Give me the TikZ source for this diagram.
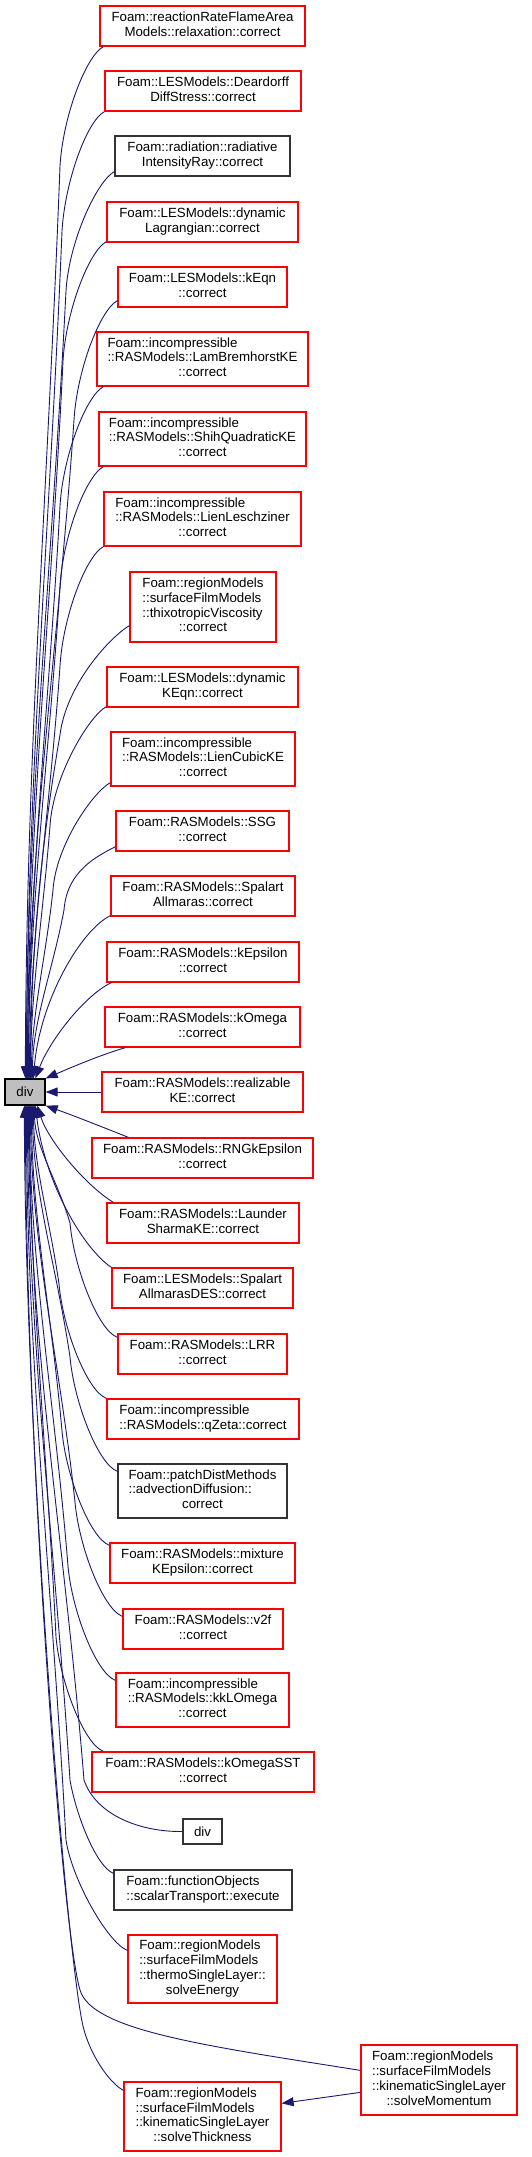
\documentclass[tikz,border=0pt]{standalone}
\usepackage{fontspec}
\setmainfont{Liberation Sans}
\usetikzlibrary{arrows.meta}
\definecolor{edgeblue}{HTML}{191970}
\definecolor{boxred}{HTML}{FF0000}
\definecolor{divgray}{HTML}{BFBFBF}
\newcommand{\lbl}[2]{\begin{tabular}{@{}l@{}}#1\\\multicolumn{1}{@{}c@{}}{#2}\end{tabular}}
\begin{document}
\begin{tikzpicture}[x=1pt,y=-1pt,
  box/.style={draw, rectangle, inner sep=0pt, line width=1.3pt, font=\fontsize{13.3}{14.7}\selectfont, text=black},
  redbox/.style={box, draw=boxred},
  blkbox/.style={box, draw=black!80},
  edge/.style={draw=edgeblue, line width=0.9pt, -{Triangle[length=12pt,width=9pt]}},
]
\useasboundingbox (0,0) rectangle (531,2157);
\fill[white] (0,0) rectangle (531,2157);

% ---- nodes ----
\node[box, draw=black, fill=divgray, minimum width=40pt, minimum height=26pt] (div) at (25,1092) {div};

\node[redbox, minimum width=205pt, minimum height=40pt] (n1) at (202.5,26) {\lbl{Foam::reactionRateFlameArea}{Models::relaxation::correct}};
\node[redbox, minimum width=196pt, minimum height=40pt] (n2) at (203,91) {\lbl{Foam::LESModels::Deardorff}{DiffStress::correct}};
\node[blkbox, minimum width=175pt, minimum height=40pt] (n3) at (202.5,156) {\lbl{Foam::radiation::radiative}{IntensityRay::correct}};
\node[redbox, minimum width=191pt, minimum height=40pt] (n4) at (202.5,222) {\lbl{Foam::LESModels::dynamic}{Lagrangian::correct}};
\node[redbox, minimum width=169pt, minimum height=40pt] (n5) at (202.5,287) {\lbl{Foam::LESModels::kEqn}{::correct}};
\node[redbox, minimum width=211pt, minimum height=54pt] (n6) at (202.5,359) {\lbl{Foam::incompressible\\::RASModels::LamBremhorstKE}{::correct}};
\node[redbox, minimum width=207pt, minimum height=54pt] (n7) at (202.5,439) {\lbl{Foam::incompressible\\::RASModels::ShihQuadraticKE}{::correct}};
\node[redbox, minimum width=197pt, minimum height=54pt] (n8) at (202.5,519) {\lbl{Foam::incompressible\\::RASModels::LienLeschziner}{::correct}};
\node[redbox, minimum width=146pt, minimum height=70pt] (n9) at (203,607) {\lbl{Foam::regionModels\\::surfaceFilmModels\\::thixotropicViscosity}{::correct}};
\node[redbox, minimum width=191pt, minimum height=40pt] (n10) at (202.5,687) {\lbl{Foam::LESModels::dynamic}{KEqn::correct}};
\node[redbox, minimum width=184pt, minimum height=54pt] (n11) at (203,759) {\lbl{Foam::incompressible\\::RASModels::LienCubicKE}{::correct}};
\node[redbox, minimum width=173pt, minimum height=40pt] (n12) at (202.5,831) {\lbl{Foam::RASModels::SSG}{::correct}};
\node[redbox, minimum width=184pt, minimum height=40pt] (n13) at (203,896) {\lbl{Foam::RASModels::Spalart}{Allmaras::correct}};
\node[redbox, minimum width=192pt, minimum height=40pt] (n14) at (203,962) {\lbl{Foam::RASModels::kEpsilon}{::correct}};
\node[redbox, minimum width=195pt, minimum height=40pt] (n15) at (202.5,1027) {\lbl{Foam::RASModels::kOmega}{::correct}};
\node[redbox, minimum width=201pt, minimum height=40pt] (n16) at (202.5,1092) {\lbl{Foam::RASModels::realizable}{KE::correct}};
\node[redbox, minimum width=221pt, minimum height=40pt] (n17) at (202.5,1158) {\lbl{Foam::RASModels::RNGkEpsilon}{::correct}};
\node[redbox, minimum width=192pt, minimum height=40pt] (n18) at (203,1223) {\lbl{Foam::RASModels::Launder}{SharmaKE::correct}};
\node[redbox, minimum width=181pt, minimum height=40pt] (n19) at (202.5,1288) {\lbl{Foam::LESModels::Spalart}{AllmarasDES::correct}};
\node[redbox, minimum width=169pt, minimum height=40pt] (n20) at (202.5,1354) {\lbl{Foam::RASModels::LRR}{::correct}};
\node[redbox, minimum width=192pt, minimum height=40pt] (n21) at (203,1419) {\lbl{Foam::incompressible}{::RASModels::qZeta::correct}};
\node[blkbox, minimum width=169pt, minimum height=54pt] (n22) at (202.5,1491) {\lbl{Foam::patchDistMethods\\::advectionDiffusion::}{correct}};
\node[redbox, minimum width=185pt, minimum height=40pt] (n23) at (202.5,1563) {\lbl{Foam::RASModels::mixture}{KEpsilon::correct}};
\node[redbox, minimum width=160pt, minimum height=40pt] (n24) at (203,1629) {\lbl{Foam::RASModels::v2f}{::correct}};
\node[redbox, minimum width=173pt, minimum height=54pt] (n25) at (202.5,1700) {\lbl{Foam::incompressible\\::RASModels::kkLOmega}{::correct}};
\node[redbox, minimum width=222pt, minimum height=40pt] (n26) at (203,1772) {\lbl{Foam::RASModels::kOmegaSST}{::correct}};
\node[blkbox, minimum width=39pt, minimum height=25pt] (n27) at (202.5,1831.5) {div};
\node[blkbox, minimum width=178pt, minimum height=40pt] (n28) at (203,1890) {\lbl{Foam::functionObjects}{::scalarTransport::execute}};
\node[redbox, minimum width=149pt, minimum height=68pt] (n29) at (202.5,1969) {\lbl{Foam::regionModels\\::surfaceFilmModels\\::thermoSingleLayer::}{solveEnergy}};
\node[redbox, minimum width=157pt, minimum height=69pt] (n30) at (202.5,2116.5) {\lbl{Foam::regionModels\\::surfaceFilmModels\\::kinematicSingleLayer}{::solveThickness}};
\node[redbox, minimum width=156pt, minimum height=70pt] (n31) at (439,2080) {\lbl{Foam::regionModels\\::surfaceFilmModels\\::kinematicSingleLayer}{::solveMomentum}};

% ---- edges from above ----
\draw[edge] ([shift={(4,0)}]n1.south west) .. controls (86,56) and (63,116) .. (60,166) .. controls (48,486) and (26,759) .. ([shift={(21,0)}]div.north west);
\draw[edge] (n2.south west) .. controls (87,121) and (65,181) .. (62,231) .. controls (50,528) and (27,782) .. ([shift={(22,0)}]div.north west);
\draw[edge] ([shift={(0,-5)}]n3.south west) .. controls (97,181) and (69,241) .. (66,291) .. controls (52,567) and (27,803) .. ([shift={(22,0)}]div.north west);
\draw[edge] ([shift={(0,-1)}]n4.south west) .. controls (89,251) and (66,311) .. (63,361) .. controls (51,612) and (28,828) .. ([shift={(23,0)}]div.north west);
\draw[edge] ([shift={(0,-7)}]n5.south west) .. controls (100,310) and (77,370) .. (74,420) .. controls (58,651) and (28,848) .. ([shift={(23,0)}]div.north west);
\draw[edge] ([shift={(7,0)}]n6.south west) .. controls (86,396) and (63,456) .. (60,506) .. controls (49,707) and (29,878) .. ([shift={(24,0)}]div.north west);
\draw[edge] ([shift={(5,0)}]n7.south west) .. controls (86,476) and (63,536) .. (60,586) .. controls (49,759) and (29,907) .. ([shift={(24,0)}]div.north west);
\draw[edge] (n8.south west) .. controls (86,556) and (63,616) .. (60,666) .. controls (50,811) and (30,934) .. ([shift={(25,0)}]div.north west);
\draw[edge] ([shift={(0,-17)}]n9.south west) .. controls (110,637) and (66,685) .. (60,735) .. controls (40,850) and (31,959) .. ([shift={(26,0)}]div.north west);
\draw[edge] ([shift={(0,-1)}]n10.south west) .. controls (89,716) and (53,776) .. (50,826) .. controls (43,915) and (31,990) .. ([shift={(26,0)}]div.north west);
\draw[edge] ([shift={(0,-4)}]n11.south west) .. controls (93,792) and (56,845) .. (53,890) .. controls (46,956) and (32,1013) .. ([shift={(27,0)}]div.north west);
\draw[edge] ([shift={(0,-5)}]n12.south west) .. controls (98,856) and (67,870) .. (64,910) .. controls (53,969) and (33,1020) .. ([shift={(28,0)}]div.north west);
\draw[edge] ([shift={(0,-1)}]n13.south west) .. controls (81,930) and (40,1000) .. ([shift={(29,0)}]div.north west);
\draw[edge] ([shift={(5,0)}]n14.south west) .. controls (85,995) and (50,1040) .. ([shift={(31,0)}]div.north west);
\draw[edge] ([shift={(21,0)}]n15.south west) .. controls (100,1055) and (70,1068) .. (div.north east);
\draw[edge] (n16.west) -- (div.east);

% ---- edges from below ----
\draw[edge] ([shift={(37,0)}]n17.north west) .. controls (105,1128) and (72,1115) .. (div.south east);
\draw[edge] ([shift={(7,0)}]n18.north west) .. controls (85,1185) and (48,1140) .. ([shift={(33,0)}]div.south west);
\draw[edge] (n19.north west) .. controls (85,1250) and (45,1185) .. ([shift={(31,0)}]div.south west);
\draw[edge] ([shift={(0,4)}]n20.north west) .. controls (98,1330) and (74,1268) .. (70,1223) .. controls (58,1182) and (35,1146) .. ([shift={(30,0)}]div.south west);
\draw[edge] (n21.north west) .. controls (87,1391) and (63,1329) .. (59,1284) .. controls (50,1221) and (34,1168) .. ([shift={(29,0)}]div.south west);
\draw[edge] ([shift={(0,8)}]n22.north west) .. controls (98,1464) and (74,1402) .. (70,1357) .. controls (57,1269) and (33,1193) .. ([shift={(28,0)}]div.south west);
\draw[edge] ([shift={(0,3)}]n23.north west) .. controls (90,1538) and (66,1476) .. (62,1431) .. controls (52,1317) and (32,1219) .. ([shift={(27,0)}]div.south west);
\draw[edge] ([shift={(0,8)}]n24.north west) .. controls (103,1609) and (79,1547) .. (75,1502) .. controls (60,1363) and (31,1244) .. ([shift={(26,0)}]div.south west);
\draw[edge] ([shift={(0,8)}]n25.north west) .. controls (96,1673) and (72,1611) .. (68,1566) .. controls (55,1405) and (30,1266) .. ([shift={(25,0)}]div.south west);
\draw[edge] ([shift={(12,0)}]n26.north west) .. controls (84,1744) and (60,1682) .. (56,1637) .. controls (47,1451) and (30,1291) .. ([shift={(25,0)}]div.south west);
\draw[edge] (n27.west) .. controls (140,1832) and (96,1815) .. (84,1780) .. controls (65,1544) and (29,1341) .. ([shift={(24,0)}]div.south west);
\draw[edge] ([shift={(0,4)}]n28.north west) .. controls (96,1866) and (76,1815) .. (70,1780) .. controls (55,1544) and (28,1341) .. ([shift={(23,0)}]div.south west);
\draw[edge] ([shift={(0,16)}]n29.north west) .. controls (108,1943) and (72,1880) .. (66,1840) .. controls (52,1583) and (27,1362) .. ([shift={(22,0)}]div.south west);
\draw[edge] ([shift={(0,26)}]n31.north west) .. controls (200,2045) and (92,2030) .. (80,1990) .. controls (62,1930) and (26,1450) .. ([shift={(21,0)}]div.south west);
\draw[edge] ([shift={(0,9)}]n30.north west) .. controls (110,2083) and (92,2058) .. (84,2030) .. controls (68,1974) and (25,1450) .. ([shift={(20,0)}]div.south west);

% ---- solveMomentum -> solveThickness ----
\draw[edge] ([shift={(0,48)}]n31.north west) -- ([shift={(0,22)}]n30.north east);
\end{tikzpicture}
\end{document}
